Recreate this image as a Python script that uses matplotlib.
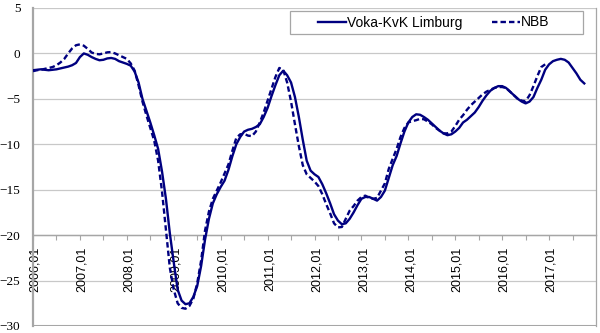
import numpy as np
import matplotlib
matplotlib.use('Agg')
import matplotlib.pyplot as plt
import matplotlib.transforms as mtransforms
from matplotlib.patches import Rectangle

# Maandelijkse reeksen, vanaf 2006,01
voka = [-1.85, -1.8, -1.75, -1.8, -1.85, -1.8, -1.75, -1.65, -1.55, -1.45, -1.3, -1.05,
        -0.4, 0.0, -0.15, -0.4, -0.6, -0.75, -0.7, -0.55, -0.5, -0.6, -0.85, -1.0,
        -1.15, -1.35, -2.0, -3.2, -5.0, -6.3, -7.6, -9.0, -10.5, -13.0, -16.0, -19.8,
        -23.0, -26.0, -27.2, -27.6, -27.5, -26.8, -25.6, -23.4, -20.5, -18.2, -16.5, -15.5,
        -14.7, -14.0, -12.8, -11.3, -10.0, -9.2, -8.6, -8.4, -8.3, -8.1, -7.8, -7.0,
        -6.0, -4.7, -3.5, -2.4, -1.9, -2.4, -3.2, -4.8, -7.0, -9.5, -11.8, -12.9,
        -13.3, -13.6, -14.4, -15.4, -16.5, -17.7, -18.4, -18.8, -18.7, -18.2, -17.5, -16.7,
        -16.0, -15.8, -15.8, -16.0, -16.2, -15.8, -15.1, -13.7, -12.3, -11.3, -9.9, -8.6,
        -7.6, -7.0, -6.7, -6.75, -7.0, -7.3, -7.7, -8.1, -8.5, -8.8, -9.0, -8.9,
        -8.6, -8.2, -7.6, -7.3, -6.9, -6.5, -5.9, -5.2, -4.6, -4.1, -3.8, -3.6,
        -3.6, -3.8, -4.2, -4.6, -5.0, -5.3, -5.5, -5.3, -4.8, -3.8, -2.9, -1.8,
        -1.2, -0.85, -0.7, -0.6, -0.7, -1.0, -1.6, -2.2, -2.9, -3.3]
nbb = [-1.95, -1.85, -1.8, -1.7, -1.6, -1.5, -1.3, -1.0, -0.6, 0.0, 0.55, 0.9,
       1.0, 0.85, 0.5, 0.1, -0.05, -0.1, 0.0, 0.12, 0.15, 0.0, -0.2, -0.4,
       -0.6, -1.1, -1.9, -3.5, -5.3, -6.8, -8.2, -9.6, -11.8, -15.2, -19.4, -23.6,
       -26.0, -27.5, -28.0, -28.1, -27.8, -27.0, -25.3, -22.8, -19.5, -17.4, -16.0, -15.1,
       -14.2, -13.2, -12.2, -10.7, -9.3, -8.9, -8.85, -9.05, -9.1, -8.6, -7.6, -6.5,
       -5.2, -3.9, -2.6, -1.6, -1.8, -3.2, -5.3, -7.8, -10.2, -12.3, -13.3, -13.7,
       -14.1, -14.6, -15.5, -16.6, -17.6, -18.7, -19.15, -19.1, -18.2, -17.3, -16.8, -16.2,
       -15.8, -15.65, -15.9, -16.0, -15.9, -15.1, -14.3, -12.7, -11.6, -10.5, -9.2, -8.2,
       -7.6, -7.45, -7.35, -7.2, -7.25, -7.5, -7.8, -8.2, -8.5, -8.8, -8.8, -8.6,
       -8.0, -7.3, -6.8, -6.2, -5.7, -5.3, -4.9, -4.5, -4.2, -4.0, -3.8, -3.7,
       -3.7, -3.8, -4.2, -4.6, -5.0, -5.2, -5.25, -4.6, -3.6, -2.5, -1.5, -1.2]
jaren = ['2006,01', '2007,01', '2008,01', '2009,01', '2010,01', '2011,01',
         '2012,01', '2013,01', '2014,01', '2015,01', '2016,01', '2017,01']

kleur = '#000080'
grijs = '#a6a6a6'

fig = plt.figure(figsize=(6, 3.33), dpi=100)
ax = fig.add_axes([33/600, 1-326/333, 563/600, 318/333])

ax.plot(np.arange(len(voka)), voka, '-', color=kleur, lw=1.7, label='Voka-KvK Limburg', zorder=3)
ax.plot(np.arange(len(nbb)), nbb, '--', color=kleur, lw=1.7, dashes=(2.3, 1.3), label='NBB', zorder=3)

ax.set_xlim(0, 144)
ax.set_ylim(-30, 5)
ax.set_yticks(range(-30, 6, 5))
for yv in range(-25, 6, 5):
    ax.axhline(yv, color='#c8c8c8', lw=0.9, zorder=1)
ax.axhline(-30, color=grijs, lw=1.5, zorder=2)

ax.spines['bottom'].set_position(('data', -20))
ax.spines['bottom'].set_color(grijs)
ax.spines['bottom'].set_linewidth(1.0)
ax.spines['left'].set_color(grijs)
ax.spines['left'].set_linewidth(1.6)
ax.spines['right'].set_color(grijs)
ax.spines['right'].set_linewidth(0.9)
ax.spines['top'].set_visible(False)

xt = list(range(0, 144, 6))
ax.set_xticks(xt)
ax.set_xticklabels([jaren[i // 2] if i % 2 == 0 else '' for i in range(len(xt))],
                   rotation=90, fontsize=9, family='Liberation Sans')
ax.tick_params(axis='x', direction='out', length=3.5, width=0.8, color=grijs, pad=5)
ax.tick_params(axis='y', length=0, pad=9)
verschuif = mtransforms.ScaledTranslation(2/100, 0, fig.dpi_scale_trans)
for t in ax.get_xticklabels():
    t.set_transform(t.get_transform() + verschuif)
for t in ax.get_yticklabels():
    t.set_family('Liberation Serif')
    t.set_fontsize(9.5)

# legende met kader
ax.add_patch(Rectangle((257/563, 1-26/318), 293/563, 23/318, transform=ax.transAxes,
                       facecolor='white', edgecolor=grijs, lw=0.9, zorder=4))
leg = ax.legend(loc='center', bbox_to_anchor=(0.712, 1-14.5/318), ncol=2, frameon=False,
                handlelength=2.0, handletextpad=0.1, columnspacing=2.1,
                prop={'family': 'Liberation Sans', 'size': 10})
leg.set_zorder(5)

fig.savefig('out.png', dpi=100)
